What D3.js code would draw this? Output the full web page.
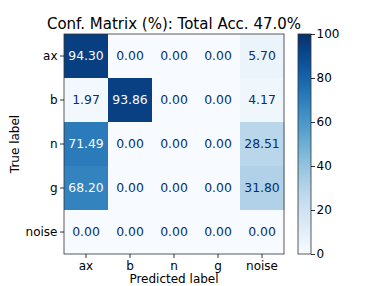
<!DOCTYPE html>
<html>
<head>
<meta charset="utf-8">
<script src="https://cdn.jsdelivr.net/npm/d3@7"></script>
<style>
  body { margin: 0; background: #fff; }
  text { font-family: "DejaVu Sans", sans-serif; fill: #000; }
</style>
</head>
<body>
<div id="chart"></div>
<script>
// Data
var labels = ["ax", "b", "n", "g", "noise"];
var rowAx = [94.30, 0.00, 0.00, 0.00, 5.70];
var rowB = [1.97, 93.86, 0.00, 0.00, 4.17];
var rowN = [71.49, 0.00, 0.00, 0.00, 28.51];
var rowG = [68.20, 0.00, 0.00, 0.00, 31.80];
var rowNoise = [0.00, 0.00, 0.00, 0.00, 0.00];
var matrix = [rowAx, rowB, rowN, rowG, rowNoise];
var colorTicks = [0, 20, 40, 60, 80, 100];
var title = "Conf. Matrix (%): Total Acc. 47.0%";

var svgWidth = 381;
var svgHeight = 286;

var svg = d3.select("#chart")
  .append("svg")
  .attr("width", svgWidth)
  .attr("height", svgHeight);

// matrix area
var mLeft = 64, mTop = 34, size = 220;

var x = d3.scaleBand().domain(labels).range([mLeft, mLeft + size]);
var y = d3.scaleBand().domain(labels).range([mTop, mTop + size]);
var color = d3.scaleSequential(d3.interpolateBlues).domain([0, 100]);

var cells = [];
matrix.forEach(function(row, i) {
  row.forEach(function(v, j) {
    cells.push({ t: labels[i], p: labels[j], v: v });
  });
});

svg.append("g")
  .selectAll("rect")
  .data(cells)
  .enter()
  .append("rect")
  .attr("x", d => x(d.p))
  .attr("y", d => y(d.t))
  .attr("width", x.bandwidth() + 0.5)
  .attr("height", y.bandwidth() + 0.5)
  .attr("fill", d => color(d.v));

svg.append("g")
  .selectAll("text")
  .data(cells)
  .enter()
  .append("text")
  .attr("x", d => x(d.p) + x.bandwidth() / 2)
  .attr("y", d => y(d.t) + y.bandwidth() / 2)
  .attr("dy", "0.36em")
  .attr("text-anchor", "middle")
  .attr("font-size", "12.4px")
  .style("fill", d => d.v > 47 ? color(0) : color(100))
  .text(d => d.v.toFixed(2));

// frame
svg.append("rect")
  .attr("x", mLeft)
  .attr("y", mTop)
  .attr("width", size)
  .attr("height", size)
  .attr("fill", "none")
  .attr("stroke", "#333")
  .attr("stroke-width", 0.8);

// axes
var bottomAxis = d3.axisBottom(x).tickSize(4).tickPadding(3);
var leftAxis = d3.axisLeft(y).tickSize(4).tickPadding(2.5);

var gx = svg.append("g").attr("transform", `translate(0, ${mTop + size})`).call(bottomAxis);
var gy = svg.append("g").attr("transform", `translate(${mLeft}, 0)`).call(leftAxis);
[gx, gy].forEach(function(g) {
  g.select(".domain").remove();
  g.selectAll("text").attr("font-size", "12px").attr("font-family", "DejaVu Sans");
  g.selectAll("line").attr("stroke", "#000").attr("stroke-width", 0.8);
});

// title and axis labels
svg.append("text")
  .attr("x", mLeft + size / 2)
  .attr("y", 29)
  .attr("text-anchor", "middle")
  .attr("font-size", "15px")
  .text(title);

svg.append("text")
  .attr("x", mLeft + size / 2)
  .attr("y", 282.5)
  .attr("text-anchor", "middle")
  .attr("font-size", "12px")
  .text("Predicted label");

svg.append("text")
  .attr("transform", `translate(19, ${mTop + size / 2}) rotate(-90)`)
  .attr("text-anchor", "middle")
  .attr("font-size", "12px")
  .text("True label");

// colorbar
var cbLeft = 298, cbWidth = 13;
var cy = d3.scaleLinear().domain([0, 100]).range([mTop + size, mTop]);

var defs = svg.append("defs");
var grad = defs.append("linearGradient")
  .attr("id", "cbgrad")
  .attr("x1", "0").attr("y1", "1").attr("x2", "0").attr("y2", "0");
d3.range(0, 1.0001, 0.05).forEach(function(t) {
  grad.append("stop")
    .attr("offset", t)
    .attr("stop-color", d3.interpolateBlues(t));
});

svg.append("rect")
  .attr("x", cbLeft)
  .attr("y", mTop)
  .attr("width", cbWidth)
  .attr("height", size)
  .attr("fill", "url(#cbgrad)")
  .attr("stroke", "#333")
  .attr("stroke-width", 0.8);

var cbAxis = d3.axisRight(cy).tickValues(colorTicks).tickSize(4).tickPadding(1.5);
var gc = svg.append("g").attr("transform", `translate(${cbLeft + cbWidth}, 0)`).call(cbAxis);
gc.select(".domain").remove();
gc.selectAll("text").attr("font-size", "12px").attr("font-family", "DejaVu Sans");
gc.selectAll("line").attr("stroke", "#000").attr("stroke-width", 0.8);
</script>
</body>
</html>
